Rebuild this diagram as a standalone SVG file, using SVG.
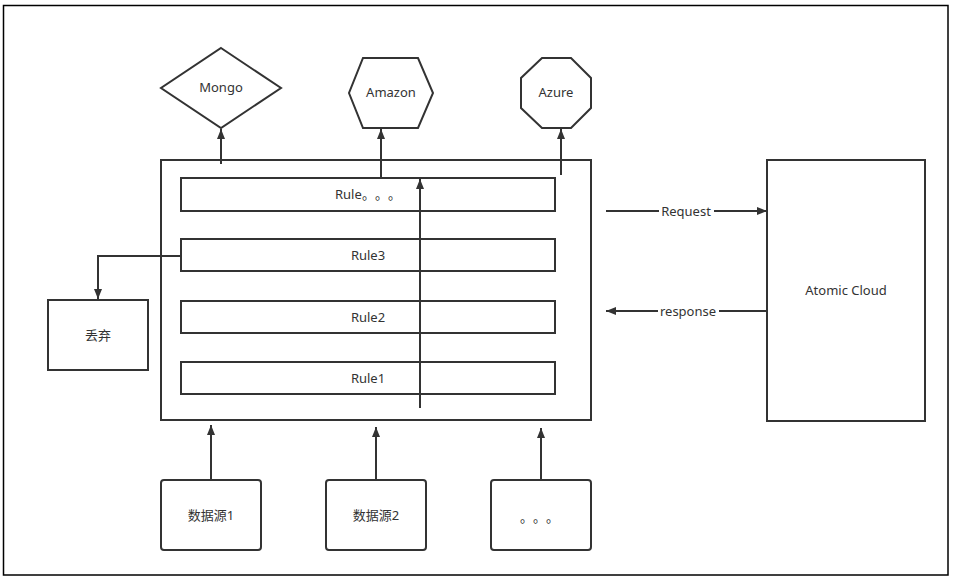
<svg xmlns="http://www.w3.org/2000/svg" width="957" height="582" viewBox="0 0 957 582">
<style>
.s{fill:#fff;stroke:#333;stroke-width:2}
.c{fill:none;stroke:#333;stroke-width:2}
text{font-family:"Noto Sans","Noto Sans CJK SC",sans-serif;font-size:13px;fill:#333;text-anchor:middle;dominant-baseline:central}
.st{text-anchor:start}
.lb{fill:#fff}
</style>
<defs>
<marker id="a" viewBox="0 0 10 10" refX="10" refY="5" markerWidth="10" markerHeight="10" markerUnits="userSpaceOnUse" orient="auto">
<path d="M0,1 L10,5 L0,9 Z" fill="#333"/>
</marker>
</defs>
<rect x="0" y="0" width="957" height="582" fill="#fff"/>
<rect x="3.5" y="5.5" width="944.5" height="569.5" fill="none" stroke="#000" stroke-width="1.5"/>
<g id="container"><rect class="s" x="161" y="160" width="430" height="260"/></g>
<g id="mongo"><polygon class="s" points="221,48 281,88 221,128 161,88"/><text x="221" y="87">Mongo</text></g>
<g id="amazon"><polygon class="s" points="363,58 418,58 433,93 418,128 363,128 349,93"/><text x="391" y="92">Amazon</text></g>
<g id="azure"><polygon class="s" points="542,58 571,58 591,78 591,108 571,128 542,128 521,108 521,78"/><text x="556" y="92">Azure</text></g>
<g id="rule-more"><rect class="s" x="181" y="178" width="374" height="33"/><text class="st" x="335" y="194">Rule<tspan x="362">。</tspan><tspan x="375">。</tspan><tspan x="388">。</tspan></text></g>
<g id="rule3"><rect class="s" x="181" y="239" width="374" height="32"/><text x="368" y="255">Rule3</text></g>
<g id="rule2"><rect class="s" x="181" y="301" width="374" height="32"/><text x="368" y="317">Rule2</text></g>
<g id="rule1"><rect class="s" x="181" y="362" width="374" height="32"/><text x="368" y="378">Rule1</text></g>
<g id="discard"><rect class="s" x="48" y="300" width="100" height="70"/><text x="98" y="335">丢弃</text></g>
<g id="atomic"><rect class="s" x="767" y="160" width="158" height="261"/><text x="846" y="290">Atomic Cloud</text></g>
<g id="ds1"><rect class="s" x="161" y="480" width="100" height="70" rx="3"/><text x="211" y="515">数据源1</text></g>
<g id="ds2"><rect class="s" x="326" y="480" width="100" height="70" rx="3"/><text x="376" y="515">数据源2</text></g>
<g id="ds3"><rect class="s" x="491" y="480" width="100" height="70" rx="3"/><text class="st" x="520" y="517">。<tspan x="533">。</tspan><tspan x="546">。</tspan></text></g>
<g id="connectors">
<path class="c" d="M221,164 V129" marker-end="url(#a)"/>
<path class="c" d="M381,178 V129" marker-end="url(#a)"/>
<path class="c" d="M561,175 V129" marker-end="url(#a)"/>
<path class="c" d="M420,408 V179" marker-end="url(#a)"/>
<path class="c" d="M181,256 H98 V299" marker-end="url(#a)"/>
<path class="c" d="M211,480 V425" marker-end="url(#a)"/>
<path class="c" d="M376,480 V427" marker-end="url(#a)"/>
<path class="c" d="M541,480 V428" marker-end="url(#a)"/>
<path class="c" d="M606,211 H767" marker-end="url(#a)"/>
<path class="c" d="M767,311 H606" marker-end="url(#a)"/>
<rect class="lb" x="659" y="203" width="55" height="17"/>
<text x="686" y="211">Request</text>
<rect class="lb" x="658" y="303" width="61" height="17"/>
<text x="688" y="311">response</text>
</g>
</svg>
